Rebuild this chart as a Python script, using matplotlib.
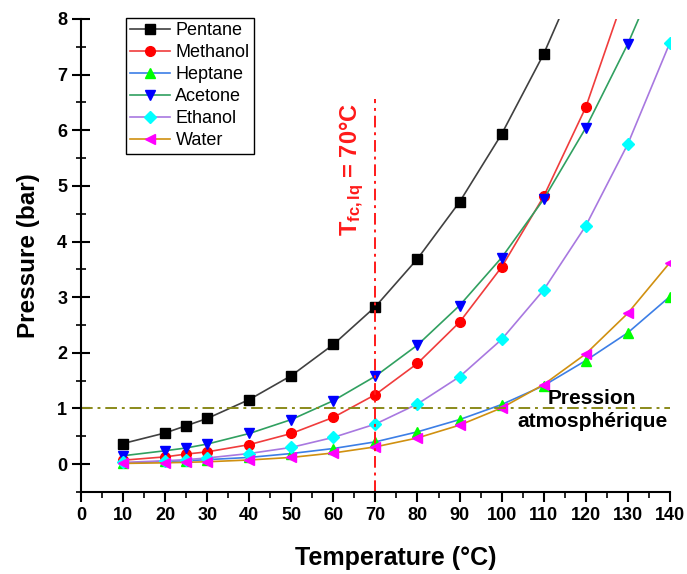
import matplotlib
matplotlib.use('Agg')
import matplotlib.pyplot as plt
from matplotlib.ticker import MultipleLocator

plt.rcParams['font.family'] = ['Liberation Sans', 'DejaVu Sans']
plt.rcParams['mathtext.fontset'] = 'custom'
plt.rcParams['mathtext.rm'] = 'Liberation Sans'
plt.rcParams['mathtext.bf'] = 'Liberation Sans:bold'
plt.rcParams['mathtext.it'] = 'Liberation Sans:italic'

# temperatures (°C)
temp = [10, 20, 25, 30, 40, 50, 60, 70, 80, 90, 100, 110, 120, 130, 140]

# vapour pressures (bar)
pentane = [0.37, 0.56, 0.69, 0.82, 1.16, 1.59, 2.15, 2.83, 3.69, 4.71, 5.93, 7.37, 9.1, 11.0, 13.2]
methanol = [0.07, 0.13, 0.18, 0.22, 0.35, 0.55, 0.84, 1.25, 1.81, 2.55, 3.54, 4.81, 6.41, 8.6, 11.2]
heptane = [0.015, 0.05, 0.06, 0.08, 0.12, 0.19, 0.28, 0.40, 0.58, 0.80, 1.07, 1.41, 1.86, 2.36, 3.01]
acetone = [0.15, 0.24, 0.29, 0.36, 0.55, 0.80, 1.14, 1.58, 2.14, 2.85, 3.71, 4.76, 6.04, 7.55, 9.3]
ethanol = [0.03, 0.06, 0.08, 0.11, 0.19, 0.30, 0.48, 0.72, 1.08, 1.57, 2.24, 3.13, 4.28, 5.75, 7.57]
water = [0.012, 0.023, 0.032, 0.042, 0.074, 0.12, 0.20, 0.31, 0.47, 0.70, 1.01, 1.43, 1.98, 2.71, 3.62]

series = [
    ('Pentane', pentane, '#404040', 'k', 's'),
    ('Methanol', methanol, '#f03c3c', '#ff0000', 'o'),
    ('Heptane', heptane, '#3c7ee6', '#00ff00', '^'),
    ('Acetone', acetone, '#30a060', '#0000ff', 'v'),
    ('Ethanol', ethanol, '#a878e0', '#00ffff', 'D'),
    ('Water', water, '#d09010', '#ff00ff', '<'),
]

fig = plt.figure(figsize=(6.87, 5.74), dpi=100)
ax = fig.add_axes([0.118, 0.143, 0.857, 0.824])

for name, vals, lc, mc, mk in series:
    ms = 7 if mk != 'D' else 6
    ax.plot(temp, vals, color=lc, lw=1.2, marker=mk, markersize=ms,
            markerfacecolor=mc, markeredgecolor=mc, label=name, clip_on=True)

# atmospheric pressure and condenser temperature
ax.plot([0, 140], [1, 1], color='#8a8a1a', lw=1.4, ls=(0, (6, 2.5, 1.5, 2.5)))
ax.plot([70, 70], [-0.5, 6.56], color='#ff1a1a', lw=1.4, ls=(0, (6, 2.5, 1.5, 2.5)))

ax.text(64.3, 5.3, r'$\mathbf{T_{fc,lq}}$ = 70°C', color='#ff1a1a', fontsize=17,
        fontweight='bold', rotation=90, ha='center', va='center')
ax.text(121.5, 0.97, 'Pression\natmosphérique', fontsize=15, fontweight='bold',
        ha='center', va='center', linespacing=1.25)

ax.set_xlim(0, 140)
ax.set_ylim(-0.5, 8)
ax.xaxis.set_major_locator(MultipleLocator(10))
ax.xaxis.set_minor_locator(MultipleLocator(5))
ax.yaxis.set_major_locator(MultipleLocator(1))
ax.yaxis.set_minor_locator(MultipleLocator(0.5))
ax.set_yticks(range(0, 9))

for s in ['top', 'right']:
    ax.spines[s].set_visible(False)
for s in ['left', 'bottom']:
    ax.spines[s].set_linewidth(1.5)

ax.tick_params(axis='x', which='major', direction='out', length=7, width=1.5, labelsize=13)
ax.tick_params(axis='x', which='minor', direction='out', length=4, width=1.2)
ax.tick_params(axis='y', which='major', direction='inout', length=13, width=1.5, labelsize=13)
ax.tick_params(axis='y', which='minor', direction='inout', length=7, width=1.2)
for lab in ax.get_xticklabels() + ax.get_yticklabels():
    lab.set_fontweight('bold')

ax.set_xlabel('Temperature (°C)', fontsize=18, fontweight='bold', labelpad=16, x=0.535)
ax.set_ylabel('Pressure (bar)', fontsize=17.5, fontweight='bold', labelpad=12)

leg = ax.legend(loc='upper left', bbox_to_anchor=(0.076, 1.003), fontsize=13,
                fancybox=False, edgecolor='k', framealpha=1, borderaxespad=0,
                handlelength=2.2, labelspacing=0.28, borderpad=0.25, handletextpad=0.3)
leg.get_frame().set_linewidth(1.0)

fig.savefig('out.png', dpi=100)
